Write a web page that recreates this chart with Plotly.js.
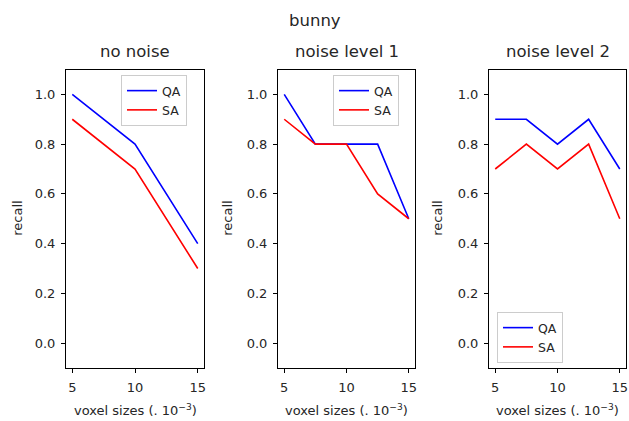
<!DOCTYPE html>
<html><head><meta charset="utf-8">
<script src="https://cdn.plot.ly/plotly-3.0.1.min.js"></script>
<style>html,body{margin:0;padding:0;background:#fff}#chart{width:629px;height:421px}</style>
</head><body><div id="chart"></div>
<script>
// Data
const suptitle = "bunny";
const panelTitles = ["no noise", "noise level 1", "noise level 2"];
const seriesNames = ["QA", "SA"];
const x0 = [5, 10, 15];
const qa0 = [1.0, 0.8, 0.4];
const sa0 = [0.9, 0.7, 0.3];
const x1 = [5, 7.5, 10, 12.5, 15];
const qa1 = [1.0, 0.8, 0.8, 0.8, 0.5];
const sa1 = [0.9, 0.8, 0.8, 0.6, 0.5];
const x2 = [5, 7.5, 10, 12.5, 15];
const qa2 = [0.9, 0.9, 0.8, 0.9, 0.7];
const sa2 = [0.7, 0.8, 0.7, 0.8, 0.5];
const xTicks = [5, 10, 15];
const yTicks = [0.0, 0.2, 0.4, 0.6, 0.8, 1.0];
const xLabel = "voxel sizes (. 10<sup>−3</sup>)";
const yLabel = "recall";

const W = 629, H = 421;
const colors = ["#0000ff", "#ff0000"];
const font = "DejaVu Sans, sans-serif";
const xs = [x0, x1, x2];
const ys = [[qa0, sa0], [qa1, sa1], [qa2, sa2]];
const xDomains = [[66/W, 204/W], [278/W, 415/W], [489/W, 626/W]];
const yDomain = [1 - 368/H, 1 - 69.5/H];
const legendPos = [[121/W, 1 - 75/H], [333/W, 1 - 75/H], [497/W, 1 - 312/H]];
const legendKeys = ["legend", "legend2", "legend3"];

const traces = [];
for (let p = 0; p < 3; p++) {
  for (let s = 0; s < 2; s++) {
    traces.push({
      x: xs[p], y: ys[p][s], type: "scatter", mode: "lines",
      name: seriesNames[s],
      line: {color: colors[s], width: 1.6},
      xaxis: p === 0 ? "x" : "x" + (p + 1),
      yaxis: p === 0 ? "y" : "y" + (p + 1),
      legend: legendKeys[p],
      showlegend: true
    });
  }
}

const layout = {
  width: W, height: H,
  margin: {l: 0, r: 0, t: 0, b: 0},
  paper_bgcolor: "#fff", plot_bgcolor: "#fff",
  font: {family: font, color: "#262626", size: 13},
  annotations: [],
  showlegend: true
};
const axCommon = {
  showgrid: false, zeroline: false, showline: true, mirror: true,
  linecolor: "#000", linewidth: 1, ticks: "outside", ticklen: 4, tickwidth: 1,
  tickcolor: "#000", tickfont: {family: font, size: 13, color: "#262626"},
  ticklabelstandoff: 3, ticklabeloverflow: "allow"
};
for (let p = 0; p < 3; p++) {
  const sfx = p === 0 ? "" : String(p + 1);
  layout["xaxis" + sfx] = Object.assign({}, axCommon, {
    domain: xDomains[p], range: [4.5, 15.5], tickvals: xTicks,
    anchor: "y" + sfx
  });
  layout["yaxis" + sfx] = Object.assign({}, axCommon, {
    domain: yDomain, range: [-0.1, 1.1], tickvals: yTicks, tickformat: ".1f",
    anchor: "x" + sfx
  });
  const cx = (xDomains[p][0] + xDomains[p][1]) / 2;
  layout.annotations.push({
    text: panelTitles[p], x: cx, y: 1 - 52/H, xref: "paper", yref: "paper",
    showarrow: false, font: {family: font, size: 16.5, color: "#262626"},
    xanchor: "center", yanchor: "middle"
  });
  layout.annotations.push({
    text: xLabel, x: cx, y: 1 - 410/H, xref: "paper", yref: "paper",
    showarrow: false, font: {family: font, size: 13, color: "#262626"},
    xanchor: "center", yanchor: "middle"
  });
  layout.annotations.push({
    text: yLabel, x: (18 + p * 210) / W, y: (yDomain[0] + yDomain[1]) / 2,
    xref: "paper", yref: "paper", textangle: -90,
    showarrow: false, font: {family: font, size: 13, color: "#262626"},
    xanchor: "center", yanchor: "middle"
  });
  layout[legendKeys[p]] = {
    x: legendPos[p][0], y: legendPos[p][1], xref: "paper", yref: "paper",
    xanchor: "left", yanchor: "top",
    bgcolor: "rgba(255,255,255,0.85)", bordercolor: "#cccccc", borderwidth: 1,
    font: {family: font, size: 12.5, color: "#262626"},
    itemwidth: 30, tracegroupgap: 2
  };
}
layout.annotations.push({
  text: suptitle, x: 0.5, y: 1 - 20/H, xref: "paper", yref: "paper",
  showarrow: false, font: {family: font, size: 16.5, color: "#262626"},
  xanchor: "center", yanchor: "middle"
});

Plotly.newPlot("chart", traces, layout, {displayModeBar: false, staticPlot: true});
</script></body></html>
